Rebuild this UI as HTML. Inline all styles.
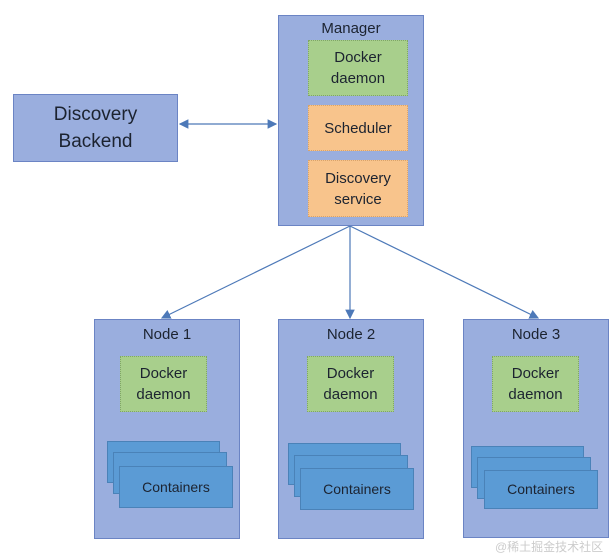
<!DOCTYPE html>
<html><head><style>
body{margin:0;width:615px;height:552px;background:#fff;position:relative;overflow:hidden;font-family:"Liberation Sans",sans-serif;}
.b{position:absolute;box-sizing:border-box;}
.blue{background:#9aaede;border:1px solid #6b84c4;}
.g{background:#a8cf8c;border:1px dotted #7fa566;}
.o{background:#f8c48c;border:1px dotted #d9a36a;}
.c{background:#5b9bd5;border:1px solid #4a82b8;}
.t{position:absolute;left:0;right:0;text-align:center;color:#1c2330;}
.cen{display:flex;align-items:center;justify-content:center;text-align:center;color:#1c2330;font-size:15px;line-height:21px;}
</style></head><body>
<svg class="b" style="left:0;top:0" width="615" height="552">
<defs><marker id="a" markerWidth="8" markerHeight="8" refX="7" refY="4" orient="auto-start-reverse"><path d="M0,0L8,4L0,8z" fill="#4d79b8"/></marker></defs>
<g stroke="#4d79b8" stroke-width="1.2" fill="none">
<line x1="180" y1="124" x2="276" y2="124" marker-end="url(#a)" marker-start="url(#a)"/>
<line x1="350" y1="226" x2="162" y2="318" marker-end="url(#a)"/>
<line x1="350" y1="226" x2="350" y2="318" marker-end="url(#a)"/>
<line x1="350" y1="226" x2="538" y2="318" marker-end="url(#a)"/>
</g>
</svg>
<div class="b blue cen" style="left:13px;top:94px;width:165px;height:68px;font-size:19px;line-height:27px">Discovery<br>Backend</div>
<div class="b blue" style="left:278px;top:15px;width:146px;height:211px"><div class="t" style="top:4px;font-size:15px">Manager</div></div>
<div class="b g cen" style="left:308px;top:40px;width:100px;height:56px">Docker<br>daemon</div>
<div class="b o cen" style="left:308px;top:105px;width:100px;height:46px">Scheduler</div>
<div class="b o cen" style="left:308px;top:160px;width:100px;height:57px">Discovery<br>service</div>

<div class="b blue" style="left:94px;top:319px;width:146px;height:220px"><div class="t" style="top:6px;font-size:15px">Node 1</div></div>
<div class="b g cen" style="left:120px;top:356px;width:87px;height:56px">Docker<br>daemon</div>
<div class="b c" style="left:107px;top:441px;width:113px;height:42px"></div>
<div class="b c" style="left:113px;top:452px;width:114px;height:42px"></div>
<div class="b c cen" style="left:119px;top:466px;width:114px;height:42px;font-size:14px">Containers</div>

<div class="b blue" style="left:278px;top:319px;width:146px;height:220px"><div class="t" style="top:6px;font-size:15px">Node 2</div></div>
<div class="b g cen" style="left:307px;top:356px;width:87px;height:56px">Docker<br>daemon</div>
<div class="b c" style="left:288px;top:443px;width:113px;height:42px"></div>
<div class="b c" style="left:294px;top:455px;width:114px;height:42px"></div>
<div class="b c cen" style="left:300px;top:468px;width:114px;height:42px;font-size:14px">Containers</div>

<div class="b blue" style="left:463px;top:319px;width:146px;height:219px"><div class="t" style="top:6px;font-size:15px">Node 3</div></div>
<div class="b g cen" style="left:492px;top:356px;width:87px;height:56px">Docker<br>daemon</div>
<div class="b c" style="left:471px;top:446px;width:113px;height:42px"></div>
<div class="b c" style="left:477px;top:457px;width:114px;height:42px"></div>
<div class="b c cen" style="left:484px;top:470px;width:114px;height:39px;font-size:14px">Containers</div>
<div class="b" style="left:495px;top:538px;font-size:12px;color:#ccc;font-family:'Liberation Sans','Noto Sans CJK SC',sans-serif">@稀土掘金技术社区</div>
</body></html>
